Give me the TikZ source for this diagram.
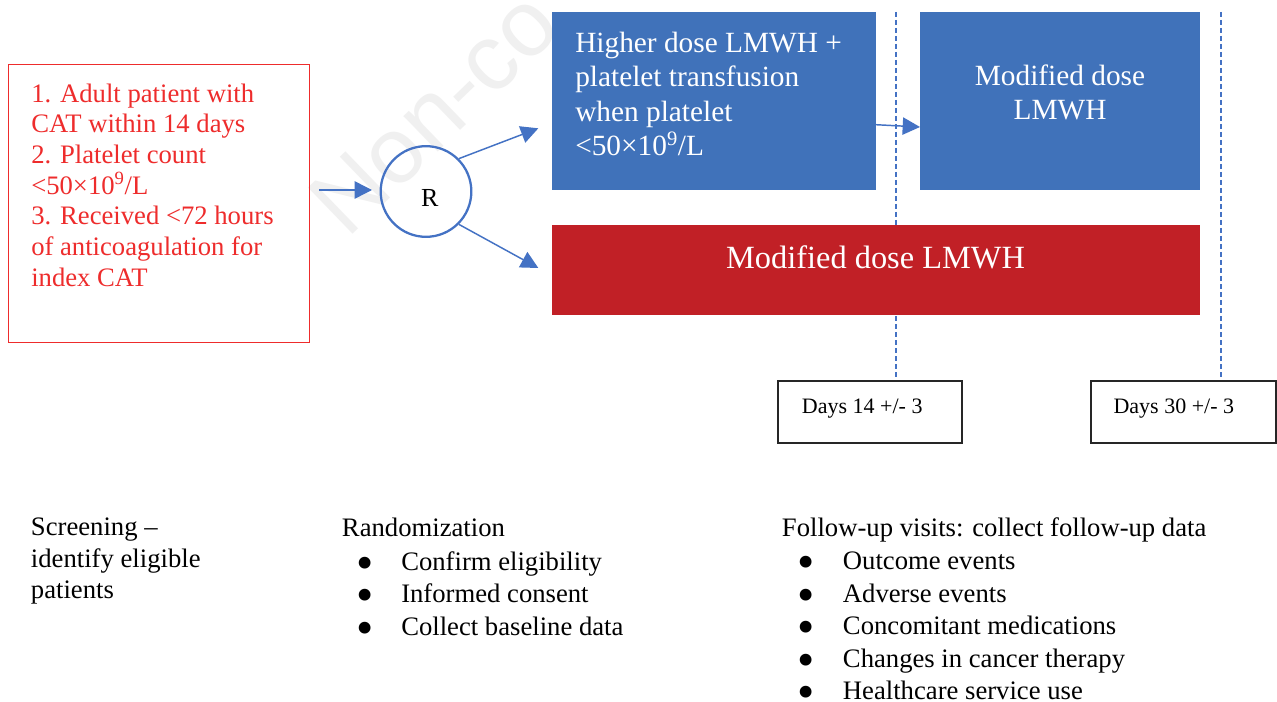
\documentclass[tikz,border=0pt]{standalone}
\usepackage{fontspec}
\setmainfont{Liberation Serif}
\newfontfamily\wmfont{Liberation Sans}
\usetikzlibrary{arrows.meta}
\definecolor{critred}{RGB}{238,44,44}
\definecolor{boxblue}{RGB}{64,114,186}
\definecolor{linkblue}{RGB}{68,114,196}
\definecolor{barred}{RGB}{193,32,38}
\tikzset{
  critbox/.style={draw=critred, line width=1pt},
  bluebox/.style={fill=boxblue},
  redbar/.style={fill=barred},
  arr/.style={draw=linkblue, line width=1.1pt, -{Triangle[length=13pt,width=13pt]}},
  dashline/.style={draw=linkblue, line width=1.2pt, dash pattern=on 3.5pt off 2.5pt},
  daybox/.style={draw=black!85, line width=1.3pt},
  txt/.style={inner sep=0pt, font=\fontsize{20}{23}\selectfont},
  wtxt/.style={inner sep=0pt, text=white, font=\fontsize{22}{25.8}\selectfont},
  daytxt/.style={inner sep=0pt, font=\fontsize{16.5}{19}\selectfont, anchor=base west},
  bul/.style={inner sep=0pt, font=\fontsize{37}{37}\selectfont, anchor=north, text depth=0pt},
  lst/.style={inner sep=0pt, font=\fontsize{20}{24}\selectfont, anchor=base west, text depth=0pt},
}
\begin{document}
\begin{tikzpicture}[x=0.75pt,y=-0.75pt]
\useasboundingbox (0,0) rectangle (1277,702);
\fill[white] (0,0) rectangle (1277,702);
% watermark
\begin{scope}
\clip (0,0) rectangle (1277,702);
\node[inner sep=0pt, font=\wmfont\fontsize{70}{70}\selectfont, text=black!6, rotate=44, anchor=base west] (wm) at (347,240) {Non-co};
\end{scope}
% criteria box
\draw[critbox] (8.3,64.3) rectangle (309.3,342.7);
\node[txt, text=critred, align=left, anchor=north west] (crit) at (31,83.5)
  {1. Adult patient with\\CAT within 14 days\\2. Platelet count\\<50×10\textsuperscript{9}/L\\3. Received <72 hours\\of anticoagulation for\\index CAT};
% dashed timeline lines
\coordinate (d1top) at (896,12);
\coordinate (d1bot) at (896,380.7);
\coordinate (d2top) at (1221,12);
\coordinate (d2bot) at (1221,380.7);
\draw[dashline] (d1top) -- (d1bot);
\draw[dashline] (d2top) -- (d2bot);
% treatment boxes
\fill[bluebox] (551.7,12) rectangle (875.7,190);
\node[wtxt, align=left, anchor=north west] (hd) at (575,31.7)
  {Higher dose LMWH +\\platelet transfusion\\when platelet\\<50×10\textsuperscript{9}/L};
\fill[bluebox] (920,12) rectangle (1200,190);
\node[wtxt, align=center, font=\fontsize{22}{25}\selectfont] (md2) at (1060,92.5) {Modified dose\\LMWH};
\fill[redbar] (551.7,225) rectangle (1200,315);
\node[wtxt, anchor=base, font=\fontsize{24.3}{26}\selectfont] (md) at (875.5,268.3) {Modified dose LMWH};
% randomization circle
\node[circle, draw=linkblue, line width=1.7pt, minimum size=68pt, inner sep=0pt] (R) at (426,191.5) {};
\node[inner sep=0pt, font=\fontsize{19.5}{20}\selectfont] (Rlab) at (429.7,198.3) {R};
\coordinate (a0) at (319,190);
\coordinate (a1) at (372,190);
\coordinate (t1) at (538.3,128.3);
\coordinate (t2) at (538.3,268);
\coordinate (b0) at (875.7,124.7);
\coordinate (b1) at (920,127);
\draw[arr] (a0) -- (a1);
\draw[arr] (R.north east) -- (t1);
\draw[arr] (R.south east) -- (t2);
\draw[arr] (b0) -- (b1);
% day boxes
\draw[daybox] (778.3,380.7) rectangle (961.7,443.3);
\node[daytxt] (day14) at (801.7,413.3) {Days 14 +/- 3};
\draw[daybox] (1090.7,380.7) rectangle (1276.3,443.3);
\node[daytxt] (day30) at (1113.3,413.3) {Days 30 +/- 3};
% bottom descriptions
\node[txt, align=left, anchor=north west, font=\fontsize{20}{23.6}\selectfont] (scr) at (30.7,517.8)
  {Screening –\\identify eligible\\patients};
\node[lst] (rand) at (341.7,536.7) {Randomization};
\foreach \t [count=\i] in {Confirm eligibility, Informed consent, Collect baseline data}{
  \node[bul] (rb\i) at (365,{524+32.7*\i}) {•};
  \node[lst] (rt\i) at (401,{537.3+32.7*\i}) {\t};
}
\node[lst] (fu) at (781.7,536.7) {Follow-up visits: collect follow-up data};
\foreach \t [count=\i] in {Outcome events, Adverse events, Concomitant medications, Changes in cancer therapy, Healthcare service use}{
  \node[bul] (fb\i) at (806,{524+32.5*\i}) {•};
  \node[lst] (ft\i) at (842.7,{537.3+32.5*\i}) {\t};
}
\end{tikzpicture}
\end{document}
